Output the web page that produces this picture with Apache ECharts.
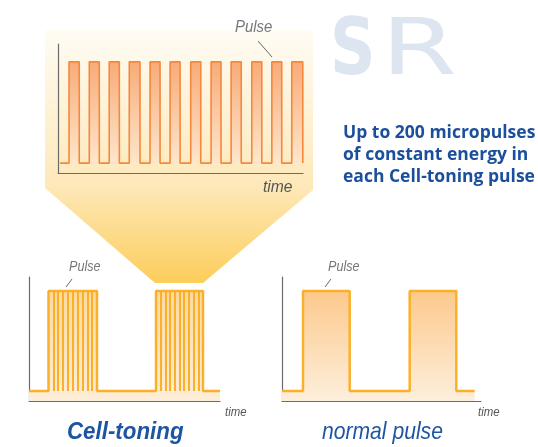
<!DOCTYPE html>
<html>
<head>
<meta charset="utf-8">
<script src="https://cdn.jsdelivr.net/npm/echarts@6/dist/echarts.min.js"></script>
<style>
  html, body { margin: 0; padding: 0; background: #ffffff; }
  #chart { width: 538px; height: 447px; }
</style>
</head>
<body>
<div id="chart"></div>
<script>
// micropulse train (zoomed view), time units
const topRise = [1.09, 3.09, 5.06, 7.04, 9.09, 11.07, 13.11, 15.12, 17.1, 19.14, 21.12, 23.09];
const topFall = [2.1, 4.08, 6.06, 8.1, 10.08, 12.06, 14.1, 16.1, 18.1, 20.13, 22.1, 24.18];
const topLevels = [1, 11.2]; // low, high

// Cell-toning pulses
const cellRise = [1.95, 12.7];
const cellFall = [6.8, 17.4];
const cellMicro = [2.44, 2.92, 3.41, 3.89, 4.38, 4.86, 5.35, 5.83, 6.32,
  13.17, 13.64, 14.11, 14.58, 15.05, 15.52, 15.99, 16.46, 16.93];

// normal pulses
const normRise = [2.1, 12.77];
const normFall = [6.77, 17.43];
const bottomLevels = [1, 11];

const chart = echarts.init(document.getElementById("chart"));

function stepData(rises, falls, low, high, start, end) {
  const pts = [[start, low]];
  rises.forEach((r, i) => {
    pts.push([r, low], [r, high], [falls[i], high], [falls[i], low]);
  });
  pts.push([end, low]);
  return pts;
}

function axisPair(idx, xmax, ymax) {
  return {
    x: {
      type: "value", gridIndex: idx, min: 0, max: xmax,
      axisLine: { show: true, onZero: false, lineStyle: { color: "#6b6b6b", width: 1.2 } },
      axisTick: { show: false }, axisLabel: { show: false }, splitLine: { show: false },
    },
    y: {
      type: "value", gridIndex: idx, min: 0, max: ymax,
      axisLine: { show: true, onZero: false, lineStyle: { color: "#6b6b6b", width: 1.2 } },
      axisTick: { show: false }, axisLabel: { show: false }, splitLine: { show: false },
    },
  };
}

const a0 = axisPair(0, 24.2, 13);
const a1 = axisPair(1, 19.1, 12.4);
const a2 = axisPair(2, 19.9, 12.4);

function text(x, y, str, font, fill, sx) {
  return {
    type: "text", x: x, y: y, z: 100, scaleX: sx || 1,
    style: { text: str, font: font, fill: fill, textAlign: "left", textVerticalAlign: "middle" },
  };
}
function leader(x1, y1, x2, y2) {
  return {
    type: "line", z: 100,
    shape: { x1: x1, y1: y1, x2: x2, y2: y2 },
    style: { stroke: "#666", lineWidth: 1 },
  };
}

const blue = "#1d55a3";
const noteFont = "bold 17.5px 'Open Sans'";

const option = {
  animation: false,
  grid: [
    { left: 58, top: 44, width: 245, height: 129 },
    { left: 29, top: 277, width: 191, height: 124 },
    { left: 282, top: 277, width: 199, height: 124 },
  ],
  xAxis: [a0.x, a1.x, a2.x],
  yAxis: [a0.y, a1.y, a2.y],
  graphic: [
    {
      type: "polygon", z: 0, silent: true,
      shape: { points: [[45, 30], [313, 30], [313, 190], [203, 283], [155, 283], [45, 188]] },
      style: {
        fill: new echarts.graphic.LinearGradient(0, 0, 0, 1, [
          { offset: 0, color: "#fffcf5" },
          { offset: 0.62, color: "#fde8b8" },
          { offset: 1, color: "#fccd5a" },
        ]),
      },
    },
    text(330, 54, "S", "bold 78px 'DejaVu Sans'", "#dde6f0", 0.81),
    text(381, 54, "R", "78px 'DejaVu Sans'", "#dde6f0", 1.4),
    text(343, 133, "Up to 200 micropulses", noteFont, "#1b4f9c"),
    text(343, 155, "of constant energy in", noteFont, "#1b4f9c"),
    text(343, 177, "each Cell-toning pulse", noteFont, "#1b4f9c"),
    text(235, 27, "Pulse", "italic 17px 'Liberation Sans'", "#777777", 0.88),
    leader(258, 41, 272, 57),
    text(263, 187, "time", "italic 17px 'Liberation Sans'", "#555555", 0.92),
    text(69, 267, "Pulse", "italic 14px 'Liberation Sans'", "#777777", 0.9),
    leader(66, 287, 72, 279),
    text(328, 267, "Pulse", "italic 14px 'Liberation Sans'", "#777777", 0.9),
    leader(325, 287, 331, 279),
    text(225, 413, "time", "italic 12px 'Liberation Sans'", "#555555", 0.95),
    text(478, 413, "time", "italic 12px 'Liberation Sans'", "#555555", 0.95),
    text(67, 432, "Cell-toning", "italic bold 24px 'Liberation Sans'", blue, 0.93),
    text(322, 432, "normal pulse", "italic 24px 'Liberation Sans'", blue, 0.88),
  ],
  series: [
    {
      type: "line", xAxisIndex: 0, yAxisIndex: 0, symbol: "none", silent: true, z: 3,
      data: stepData(topRise, topFall, topLevels[0], topLevels[1], 0.2, 24.2),
      lineStyle: { color: "#f5883c", width: 1.6 },
      areaStyle: {
        origin: topLevels[0],
        color: new echarts.graphic.LinearGradient(0, 0, 0, 1, [
          { offset: 0, color: "#f8ab78" },
          { offset: 1, color: "#fee6cc" },
        ]),
        opacity: 1,
      },
    },
    {
      type: "line", xAxisIndex: 1, yAxisIndex: 1, symbol: "none", silent: true, z: 3,
      data: stepData(cellRise, cellFall, bottomLevels[0], bottomLevels[1], 0, 19.1),
      lineStyle: { color: "#fbb02a", width: 2.5 },
      areaStyle: {
        origin: "start",
        color: new echarts.graphic.LinearGradient(0, 0, 0, 1, [
          { offset: 0, color: "#fdd9a0" },
          { offset: 1, color: "#fdeed9" },
        ]),
        opacity: 1,
      },
      markLine: {
        silent: true, symbol: "none", label: { show: false },
        lineStyle: { color: "#fbb02a", width: 2, type: "solid" },
        data: cellMicro.map((m) => [
          { coord: [m, bottomLevels[0]] },
          { coord: [m, bottomLevels[1]] },
        ]),
      },
    },
    {
      type: "line", xAxisIndex: 2, yAxisIndex: 2, symbol: "none", silent: true, z: 3,
      data: stepData(normRise, normFall, bottomLevels[0], bottomLevels[1], 0, 19.27),
      lineStyle: { color: "#fbb02a", width: 2.5 },
      areaStyle: {
        origin: "start",
        color: new echarts.graphic.LinearGradient(0, 0, 0, 1, [
          { offset: 0, color: "#fcc98c" },
          { offset: 1, color: "#fdefdc" },
        ]),
        opacity: 1,
      },
    },
  ],
};

chart.setOption(option);
</script>
</body>
</html>
